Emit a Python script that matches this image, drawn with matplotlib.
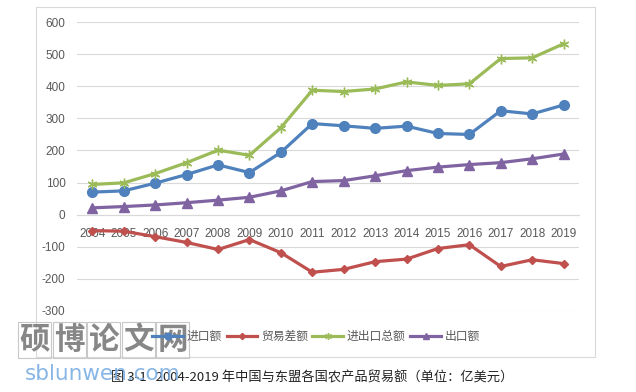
import matplotlib
matplotlib.use('Agg')
import matplotlib.pyplot as plt
from matplotlib.lines import Line2D
from matplotlib.patches import Rectangle

plt.rcParams['font.family'] = ['Liberation Sans', 'Noto Sans CJK SC', 'DejaVu Sans']
plt.rcParams['axes.unicode_minus'] = False

years = ['2004', '2005', '2006', '2007', '2008', '2009', '2010', '2011',
         '2012', '2013', '2014', '2015', '2016', '2017', '2018', '2019']
imports = [70, 74, 98, 125, 155, 131, 194, 284, 277, 269, 276, 253, 250, 324, 314, 342]
balance = [-50, -52, -69, -87, -109, -78, -119, -180, -171, -147, -139, -106, -94, -162, -141, -153]
total = [94, 99, 128, 162, 201, 185, 271, 388, 384, 392, 414, 403, 408, 487, 489, 533]
exports = [21, 25, 30, 37, 45, 54, 74, 103, 106, 121, 137, 148, 156, 162, 174, 189]

series_names = ['进口额', '贸易差额', '进出口总额', '出口额']
colors = ['#4F81BD', '#C0504D', '#9BBB59', '#8064A2']
markers = ['o', 'D', (6, 2, 0), '^']
msizes = [7, 4.5, 7, 6.5]

fig = plt.figure(figsize=(6.36, 3.92), dpi=100)
W, H = 636, 392

# chart area border
fig.patches.append(Rectangle((36 / W, 1 - 356.7 / H), (594.7 - 36) / W, (356.7 - 6.7) / H,
                             transform=fig.transFigure, fill=False, edgecolor='#D9D9D9', lw=0.8))

ax = fig.add_axes([76.7 / W, 1 - 310.7 / H, (579.3 - 76.7) / W, (310.7 - 22.3) / H])
x = list(range(len(years)))
for vals, name, c, m, ms in zip([imports, balance, total, exports], series_names, colors, markers, msizes):
    ax.plot(x, vals, color=c, lw=2.3, marker=m, markersize=ms, markeredgecolor=c,
            markerfacecolor=c, markeredgewidth=1.0, label=name, zorder=3)

ax.set_xlim(-0.5, len(years) - 0.5)
ax.set_ylim(-300, 600)
ax.set_yticks(range(-300, 601, 100))
ax.grid(axis='y', color='#D9D9D9', lw=0.8, zorder=0)
for s in ['top', 'right', 'left']:
    ax.spines[s].set_visible(False)
ax.spines['bottom'].set_position(('data', 0))
ax.spines['bottom'].set_color('#D9D9D9')
ax.spines['bottom'].set_linewidth(0.8)
ax.set_xticks(x)
ax.set_xticklabels(years)
ax.tick_params(axis='x', length=0, pad=10, labelsize=8.5, labelcolor='#595959')
ax.tick_params(axis='y', length=0, pad=8, labelsize=8.5, labelcolor='#595959')

handles = [Line2D([0], [0], color=c, lw=2.3, marker=m, markersize=ms * 0.7,
                  markerfacecolor=c, markeredgecolor=c)
           for c, m, ms in zip(colors, markers, msizes)]
leg = fig.legend(handles, series_names, loc='center', bbox_to_anchor=(316 / W, 1 - 336.7 / H),
                 ncol=4, frameon=False, handlelength=2.6, handletextpad=0.3, columnspacing=0.4,
                 prop={'family': ['Noto Sans CJK SC'], 'size': 8.5})
for t in leg.get_texts():
    t.set_color('#595959')

fig.text(312 / W, 1 - 378 / H, '图 3-1   2004-2019 年中国与东盟各国农产品贸易额（单位：亿美元）',
         ha='center', va='center', fontsize=9.5, color='#222222',
         family=['Noto Sans CJK SC', 'DejaVu Sans'])

# watermark
for i, ch in enumerate('硕博论文网'):
    x0 = 18 + i * 34.6
    fig.patches.append(Rectangle((x0 / W, 1 - 357.7 / H), 33 / W, 36 / H, transform=fig.transFigure,
                                 fill=False, edgecolor='#C8C8C8', lw=0.8))
    fig.text((x0 + 16.5) / W, 1 - 339.5 / H, ch, ha='center', va='center', fontsize=22,
             color='#7A7A7A', fontweight='bold', family=['Noto Sans CJK SC'], alpha=0.9)
fig.text(25 / W, 1 - 374 / H, 'sblunwen.com', ha='left', va='center', fontsize=15.5,
         color='#7AAEE3', family=['DejaVu Sans'], alpha=0.9)

fig.savefig('out.png', dpi=100)
